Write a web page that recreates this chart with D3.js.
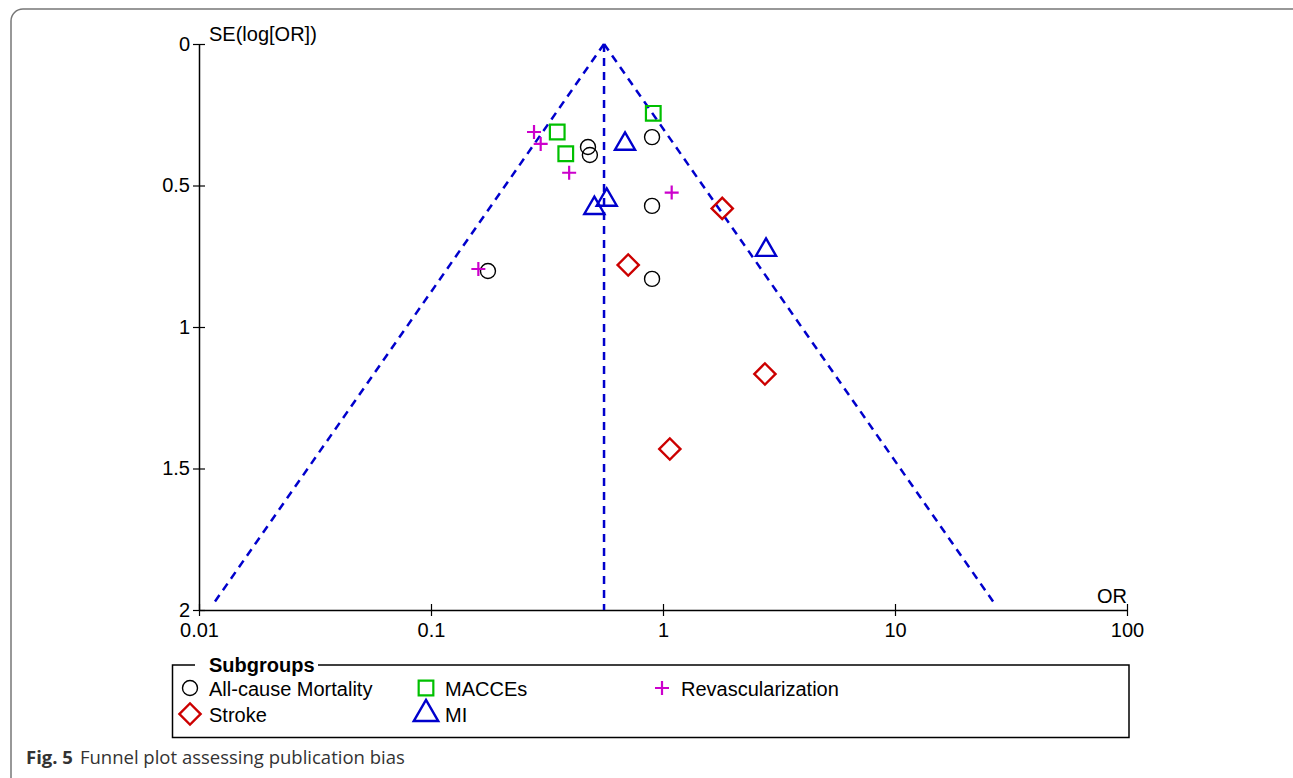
<!DOCTYPE html>
<html>
<head>
<meta charset="utf-8">
<script src="https://cdn.jsdelivr.net/npm/d3@7"></script>
<style>
  body { margin: 0; background: #fff; }
  svg text { font-family: "Liberation Sans", Arial, sans-serif; }
</style>
</head>
<body>
<div class="chart"></div>
<script>
// chart data
var subgroups = ["All-cause Mortality", "MACCEs", "Revascularization", "Stroke", "MI"];

var mortalityOR = [0.475, 0.484, 0.897, 0.897, 0.897, 0.176];
var mortalitySE = [0.364, 0.392, 0.329, 0.572, 0.830, 0.802];

var maccesOR = [0.350, 0.381, 0.908];
var maccesSE = [0.311, 0.388, 0.245];

var revascOR = [0.278, 0.297, 0.394, 1.09, 0.160];
var revascSE = [0.311, 0.353, 0.455, 0.525, 0.795];

var strokeOR = [1.80, 0.708, 1.07, 2.75];
var strokeSE = [0.581, 0.781, 1.431, 1.166];

var miOR = [0.686, 0.572, 0.506, 2.78];
var miSE = [0.353, 0.551, 0.580, 0.728];

var pooledOR = 0.557;
var xTicks = [0.01, 0.1, 1, 10, 100];
var yTicks = [0, 0.5, 1, 1.5, 2];

var svgWidth = 1293;
var svgHeight = 778;

var margin = { top: 44, left: 199 };
var width = 928;
var height = 566;

var svg = d3.select(".chart")
  .append("svg")
  .attr("width", svgWidth)
  .attr("height", svgHeight);

// outer rounded frame
svg.append("rect")
  .attr("x", 11).attr("y", 9)
  .attr("width", 1300).attr("height", 800)
  .attr("rx", 12)
  .attr("fill", "none")
  .attr("stroke", "#777")
  .attr("stroke-width", 1.5);

var chartGroup = svg.append("g")
  .attr("transform", `translate(${margin.left}, ${margin.top})`);

var xLogScale = d3.scaleLog().domain([0.01, 100]).range([0, width]);
var yLinearScale = d3.scaleLinear().domain([0, 2]).range([0, height]);

// axes (ticks cross the axis line)
var bottomAxis = d3.axisBottom(xLogScale)
  .tickValues(xTicks)
  .tickFormat(d3.format("~g"))
  .tickSizeInner(6).tickSizeOuter(0).tickPadding(6);
var leftAxis = d3.axisLeft(yLinearScale)
  .tickValues(yTicks)
  .tickFormat(d3.format("~g"))
  .tickSizeInner(6).tickSizeOuter(0).tickPadding(3);

var xAxisG = chartGroup.append("g")
  .attr("transform", `translate(0, ${height})`)
  .call(bottomAxis);
var yAxisG = chartGroup.append("g").call(leftAxis);

[xAxisG, yAxisG].forEach(function(g) {
  g.select(".domain").attr("stroke", "#000").attr("stroke-width", 1.5);
  g.selectAll(".tick line").attr("stroke", "#000").attr("stroke-width", 1.2);
  g.selectAll(".tick text")
    .attr("fill", "#000")
    .style("font-size", "20px")
    .style("font-family", "Liberation Sans, Arial, sans-serif");
});
xAxisG.selectAll(".tick line").attr("y1", -6).attr("y2", 6);
xAxisG.selectAll(".tick text").attr("y", 13);
yAxisG.selectAll(".tick line").attr("x1", -6).attr("x2", 6);
yAxisG.selectAll(".tick text").attr("x", -9).attr("dy", "0.3em");

// axis titles
chartGroup.append("text")
  .attr("x", 10).attr("y", -3)
  .style("font-size", "20px")
  .text("SE(log[OR])");
chartGroup.append("text")
  .attr("x", width).attr("y", height - 7)
  .attr("text-anchor", "end")
  .style("font-size", "20px")
  .text("OR");

// funnel lines
var blue = "#0000cc";
var seMax = 1.97;
var funnel = [
  [[pooledOR, 0], [Math.exp(Math.log(pooledOR) - 1.96 * seMax), seMax]],
  [[pooledOR, 0], [Math.exp(Math.log(pooledOR) + 1.96 * seMax), seMax]],
  [[pooledOR, 0], [pooledOR, 2]]
];
var line = d3.line()
  .x(d => xLogScale(d[0]))
  .y(d => yLinearScale(d[1]));
chartGroup.selectAll(".funnel")
  .data(funnel)
  .enter()
  .append("path")
  .attr("class", "funnel")
  .attr("d", line)
  .attr("fill", "none")
  .attr("stroke", blue)
  .attr("stroke-width", 2.5)
  .attr("stroke-dasharray", "8,6");

// marker shapes
var shapes = {
  circle: { path: d3.symbol(d3.symbolCircle, 177)(), color: "#000", sw: 1.4, rot: 0 },
  square: { path: d3.symbol(d3.symbolSquare, 215)(), color: "#00c000", sw: 2.2, rot: 0 },
  plus: { path: "M-7,0H7M0,-7V7", color: "#cc00cc", sw: 2.2, rot: 0 },
  diamond: { path: d3.symbol(d3.symbolSquare, 225)(), color: "#cc0000", sw: 2.4, rot: 45 },
  triangle: { path: d3.symbol(d3.symbolTriangle, 175)(), color: blue, sw: 2.4, rot: 0 }
};

function drawGroup(ors, ses, shape) {
  var s = shapes[shape];
  chartGroup.append("g")
    .selectAll("path")
    .data(ors.map((o, i) => ({ or: o, se: ses[i] })))
    .enter()
    .append("path")
    .attr("d", s.path)
    .attr("transform", d => `translate(${xLogScale(d.or)}, ${yLinearScale(d.se)}) rotate(${s.rot})`)
    .attr("fill", "none")
    .attr("stroke", s.color)
    .attr("stroke-width", s.sw);
}

drawGroup(mortalityOR, mortalitySE, "circle");
drawGroup(maccesOR, maccesSE, "square");
drawGroup(revascOR, revascSE, "plus");
drawGroup(strokeOR, strokeSE, "diamond");
drawGroup(miOR, miSE, "triangle");

// legend
var legend = svg.append("g");
legend.append("path")
  .attr("d", "M195,665H172.5V737.5H1129V665H318")
  .attr("fill", "none")
  .attr("stroke", "#000")
  .attr("stroke-width", 1.5);
legend.append("text")
  .attr("x", 209).attr("y", 672)
  .style("font-size", "20px")
  .style("font-weight", "bold")
  .text("Subgroups");

var legendItems = [
  { label: subgroups[0], shape: "circle", x: 190, y: 688 },
  { label: subgroups[1], shape: "square", x: 426, y: 688 },
  { label: subgroups[2], shape: "plus", x: 662, y: 688 },
  { label: subgroups[3], shape: "diamond", x: 190, y: 714 },
  { label: subgroups[4], shape: "triangle", x: 426, y: 714 }
];
legendItems.forEach(function(item) {
  var s = shapes[item.shape];
  legend.append("path")
    .attr("d", item.shape === "triangle" ? d3.symbol(d3.symbolTriangle, 260)() : s.path)
    .attr("transform", `translate(${item.x}, ${item.y}) rotate(${s.rot})`)
    .attr("fill", "none")
    .attr("stroke", s.color)
    .attr("stroke-width", s.sw);
  legend.append("text")
    .attr("x", item.x + 19).attr("y", item.y + 8)
    .style("font-size", "20px")
    .text(item.label);
});

// caption
var caption = svg.append("text")
  .attr("x", 26).attr("y", 764)
  .style("font-family", "Open Sans, Noto Sans, sans-serif")
  .style("font-size", "18.5px")
  .attr("fill", "#333");
caption.append("tspan").style("font-weight", "bold").text("Fig. 5");
caption.append("tspan").attr("dx", 7).text("Funnel plot assessing publication bias");
</script>
</body>
</html>
